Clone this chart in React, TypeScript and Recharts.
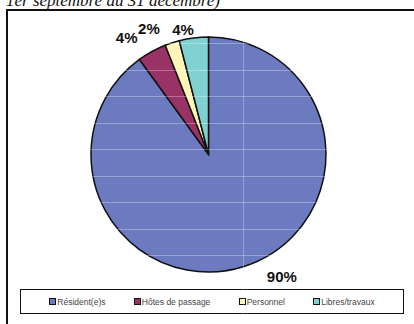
import React from 'react';
import { PieChart, Pie, Cell, Legend } from 'recharts';

// occupation des lits, 1er septembre au 31 décembre
const categories = ['Résident(e)s', 'Hôtes de passage', 'Personnel', 'Libres/travaux'];
const shares = [90, 4, 2, 4];

const COLORS = ['#6c7bc0', '#993366', '#fff5b8', '#80d2d2'];
// label placement tweaks (degrees along the arc, distance from centre)
const LABEL_SHIFT = [13.1, 6.1, 7.4, 4.3];
const LABEL_DIST = [142, 143, 139, 128];

const data = categories.map((name, i) => ({ name, value: shares[i] }));

const RAD = Math.PI / 180;

// faint table rules of the page running across the chart
const RULES_Y = [43, 70, 96, 123, 149, 176, 202, 229, 255];

const renderLabel = (props: any) => {
  const { cx, cy, midAngle, index, value } = props;
  const a = (midAngle + LABEL_SHIFT[index]) * RAD;
  const r = LABEL_DIST[index];
  const x = cx + r * Math.cos(a);
  const y = cy - r * Math.sin(a);
  return (
    <text
      x={x}
      y={y}
      textAnchor="middle"
      dominantBaseline="central"
      fontFamily="'Liberation Sans', Arial, sans-serif"
      fontWeight="bold"
      fontSize={15}
      fill="#111"
    >
      {value}%
    </text>
  );
};

const renderLegend = () => (
  <div
    style={{
      display: 'flex',
      justifyContent: 'space-evenly',
      alignItems: 'center',
      height: '100%',
      fontFamily: "'Liberation Sans', Arial, sans-serif",
      fontSize: 8.5,
      color: '#444',
    }}
  >
    {categories.map((name, i) => (
      <span key={name} style={{ display: 'flex', alignItems: 'center' }}>
        <span
          style={{
            display: 'inline-block',
            width: 5,
            height: 5,
            border: '1.5px solid #111',
            background: COLORS[i],
            marginRight: 1,
          }}
        />
        {name}
      </span>
    ))}
  </div>
);

export default function App() {
  return (
    <div
      style={{
        position: 'absolute',
        left: 0,
        top: 0,
        width: 414,
        height: 324,
        background: '#fff',
        overflow: 'hidden',
      }}
    >
      <div
        style={{
          position: 'absolute',
          left: 6,
          top: -9,
          fontFamily: "'Liberation Serif', 'Times New Roman', serif",
          fontStyle: 'italic',
          fontSize: 17,
          whiteSpace: 'nowrap',
          color: '#111',
        }}
      >
        1er septembre au 31 décembre)
      </div>
      {/* frame of the chart area */}
      <div style={{ position: 'absolute', left: 6, top: 9, width: 408, height: 1.5, background: '#111' }} />
      <div style={{ position: 'absolute', left: 6, top: 9, width: 1.5, height: 315, background: '#111' }} />
      <div style={{ position: 'absolute', left: 0, top: 0 }}>
        <PieChart width={414} height={324}>
          <Pie
            data={data}
            dataKey="value"
            nameKey="name"
            cx={203.5}
            cy={149.5}
            outerRadius={117.5}
            startAngle={90}
            endAngle={-270}
            stroke="#111"
            strokeWidth={1.5}
            label={renderLabel}
            labelLine={false}
            isAnimationActive={false}
          >
            {data.map((_, i) => (
              <Cell key={`cell-${i}`} fill={COLORS[i]} />
            ))}
          </Pie>
          <Legend
            content={renderLegend}
            wrapperStyle={{
              left: 20,
              top: 289,
              width: 384,
              height: 25,
              border: '1px solid #111',
              boxSizing: 'border-box',
              background: '#fff',
            }}
          />
        </PieChart>
      </div>
      <svg
        width={414}
        height={324}
        style={{ position: 'absolute', left: 0, top: 0, pointerEvents: 'none' }}
      >
        {RULES_Y.map((y) => (
          <line key={y} x1={10} x2={414} y1={y + 0.5} y2={y + 0.5} stroke="#fff" strokeOpacity={0.3} />
        ))}
        <line x1={243.5} x2={243.5} y1={11} y2={324} stroke="#fff" strokeOpacity={0.3} />
      </svg>
    </div>
  );
}
